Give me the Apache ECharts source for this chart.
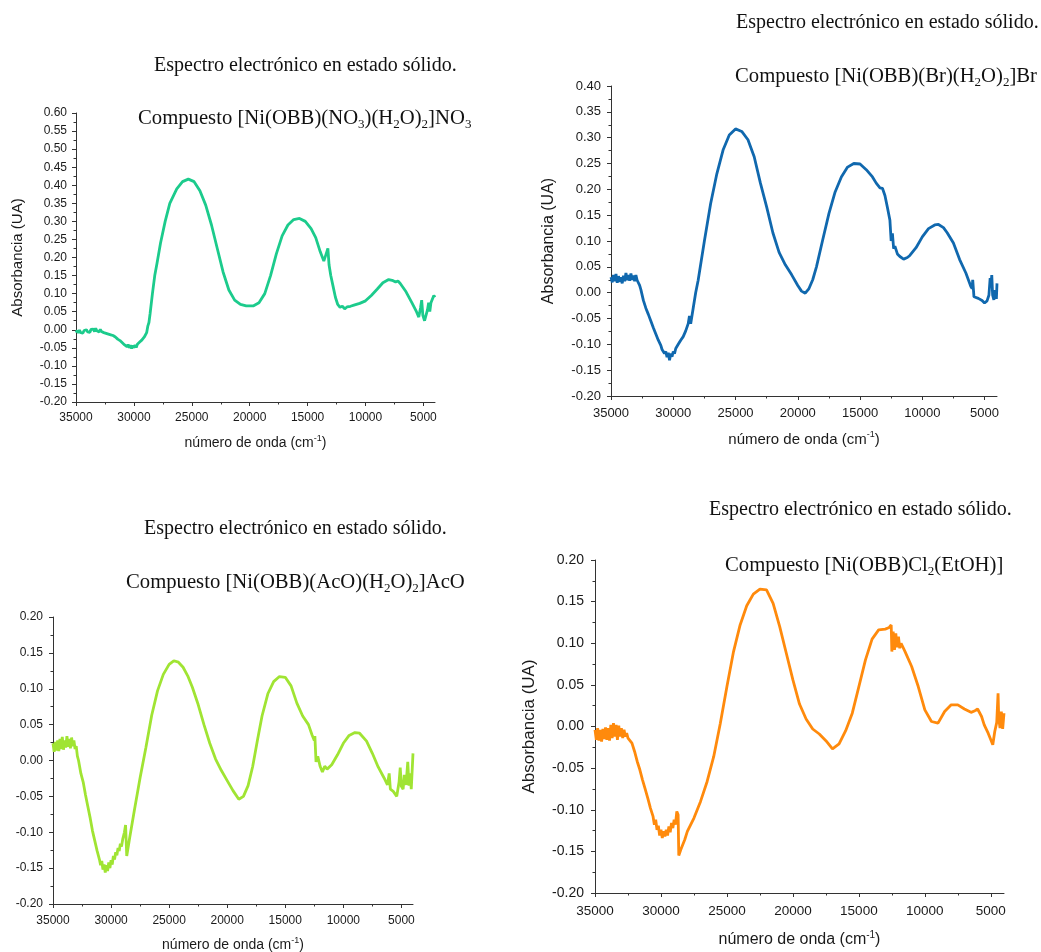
<!DOCTYPE html>
<html>
<head>
<meta charset="utf-8">
<title>Espectro electrónico en estado sólido</title>
<script src="https://cdn.jsdelivr.net/npm/echarts@6/dist/echarts.min.js"></script>
<style>
  html, body { margin: 0; padding: 0; background: #ffffff; }
  #chart { width: 1041px; height: 952px; }
</style>
</head>
<body>
<div id="chart"></div>
<script>
// ---- Spectra: [wavenumber (cm-1), absorbance (UA)] ----
const specNO3 = [
  [35000,-0.008],[34900,-0.002],[34800,-0.009],[34700,-0.001],[34600,-0.008],[34500,-0.003],[34400,-0.009],[34300,-0.002],
  [34200,-0.007],[34100,0.000],[34000,-0.006],[33900,-0.001],[33800,-0.007],[33700,0.001],[33600,-0.004],[33500,0.002],
  [33400,-0.005],[33300,0.004],[33200,-0.003],[33100,0.002],[33000,-0.006],[32900,0.001],[32800,-0.005],[32700,-0.001],
  [32600,-0.008],[32500,-0.004],[32400,-0.010],[32300,-0.006],[32200,-0.012],[32100,-0.009],[32000,-0.014],
  [31800,-0.016],[31600,-0.020],[31400,-0.026],[31200,-0.030],[31000,-0.036],[30900,-0.033],[30800,-0.042],[30700,-0.038],
  [30600,-0.047],[30500,-0.041],[30400,-0.050],[30300,-0.043],[30200,-0.052],[30100,-0.044],[30000,-0.050],[29900,-0.042],
  [29800,-0.049],[29700,-0.040],[29600,-0.044],[29500,-0.034],[29400,-0.038],[29300,-0.028],[29200,-0.030],[29100,-0.020],
  [29000,-0.022],[28900,-0.008],[28800,0.010],[28700,0.020],[28600,0.045],[28400,0.100],[28200,0.150],[28000,0.185],
  [27700,0.240],[27300,0.300],[26900,0.350],[26300,0.390],[25800,0.410],[25300,0.417],[24800,0.410],[24300,0.385],
  [23800,0.345],[23300,0.290],[22800,0.225],[22300,0.160],[21800,0.110],[21300,0.082],[20800,0.070],[20300,0.066],
  [19700,0.066],[19200,0.075],[18700,0.100],[18200,0.150],[17700,0.210],[17200,0.260],[16700,0.290],[16200,0.305],
  [15700,0.308],[15200,0.300],[14700,0.280],[14300,0.255],[13900,0.215],[13600,0.190],[13450,0.186],[13350,0.215],
  [13250,0.225],[13150,0.180],[13000,0.150],[12800,0.120],[12600,0.090],[12400,0.070],[12300,0.075],[12200,0.062],
  [12000,0.065],[11800,0.058],[11600,0.063],[11300,0.065],[11000,0.068],[10500,0.073],[10000,0.080],[9500,0.095],
  [9000,0.112],[8500,0.130],[8000,0.139],[7700,0.137],[7400,0.132],[7200,0.135],[7000,0.128],[6500,0.105],
  [6000,0.075],[5600,0.050],[5400,0.035],[5250,0.060],[5150,0.082],[5050,0.040],[4900,0.025],[4800,0.028],
  [4650,0.055],[4550,0.075],[4450,0.050],[4350,0.075],[4200,0.070],[4100,0.095],[4000,0.090]
];

const specBr = [
  [35000,0.030],[34900,0.020],[34800,0.034],[34700,0.022],[34600,0.036],[34500,0.019],[34400,0.032],[34300,0.021],
  [34200,0.030],[34100,0.018],[34000,0.033],[33900,0.022],[33800,0.038],[33700,0.024],[33600,0.034],[33500,0.023],
  [33400,0.037],[33300,0.025],[33200,0.033],[33100,0.022],[33000,0.034],[32900,0.024],[32800,0.026],[32700,0.014],
  [32600,0.006],[32400,-0.015],[32200,-0.030],[32000,-0.042],[31800,-0.055],[31600,-0.068],[31400,-0.080],[31200,-0.092],
  [31000,-0.102],[30900,-0.110],[30800,-0.108],[30700,-0.118],[30600,-0.114],[30500,-0.125],[30400,-0.116],[30300,-0.131],
  [30200,-0.118],[30100,-0.124],[30000,-0.114],[29900,-0.118],[29800,-0.108],[29700,-0.110],[29600,-0.100],[29500,-0.102],
  [29400,-0.092],[29200,-0.085],[29000,-0.074],[28800,-0.060],[28700,-0.045],[28600,-0.060],[28400,-0.030],[28200,0.000],
  [28000,0.024],[27500,0.100],[27000,0.172],[26500,0.230],[26000,0.276],[25500,0.305],[25000,0.317],[24500,0.312],
  [24000,0.296],[23500,0.263],[23000,0.212],[22500,0.166],[22000,0.116],[21500,0.078],[21000,0.054],[20500,0.035],
  [20000,0.014],[19700,0.003],[19400,-0.001],[19100,0.008],[18800,0.025],[18500,0.050],[18000,0.102],[17500,0.153],
  [17000,0.195],[16500,0.224],[16000,0.243],[15500,0.250],[15000,0.249],[14500,0.238],[14000,0.224],[13700,0.212],
  [13400,0.203],[13200,0.202],[13000,0.188],[12800,0.165],[12600,0.140],[12500,0.100],[12400,0.115],[12300,0.085],
  [12200,0.090],[12000,0.075],[11800,0.070],[11500,0.065],[11200,0.068],[11000,0.072],[10500,0.087],[10000,0.108],
  [9500,0.124],[9000,0.131],[8700,0.132],[8300,0.126],[8000,0.116],[7500,0.096],[7000,0.064],[6500,0.038],
  [6100,0.012],[6000,0.008],[5950,0.025],[5850,-0.008],[5500,-0.011],[5200,-0.015],[5000,-0.020],[4800,-0.016],
  [4650,-0.005],[4550,0.028],[4500,0.010],[4420,0.034],[4350,-0.005],[4250,-0.014],[4150,0.005],[4050,-0.012],[4000,0.018]
];

const specAcO = [
  [35000,0.024],[34900,0.012],[34800,0.026],[34700,0.014],[34600,0.028],[34500,0.013],[34400,0.030],[34300,0.016],
  [34200,0.033],[34100,0.015],[34000,0.028],[33900,0.018],[33800,0.034],[33700,0.019],[33600,0.030],[33500,0.017],
  [33400,0.032],[33300,0.020],[33200,0.028],[33100,0.016],[33000,0.020],[32900,0.006],[32800,0.000],[32600,-0.018],
  [32400,-0.030],[32200,-0.048],[32000,-0.064],[31800,-0.080],[31600,-0.098],[31400,-0.112],[31200,-0.126],[31000,-0.138],
  [30900,-0.146],[30800,-0.140],[30700,-0.152],[30600,-0.145],[30500,-0.156],[30400,-0.146],[30300,-0.154],[30200,-0.142],
  [30100,-0.150],[30000,-0.139],[29900,-0.145],[29800,-0.133],[29700,-0.138],[29600,-0.128],[29500,-0.132],[29400,-0.122],
  [29300,-0.126],[29200,-0.116],[29100,-0.120],[29000,-0.110],[28850,-0.100],[28750,-0.090],[28650,-0.133],[28400,-0.108],
  [28000,-0.070],[27500,-0.024],[27000,0.018],[26500,0.063],[26000,0.097],[25500,0.120],[25000,0.134],[24600,0.139],
  [24200,0.137],[23800,0.130],[23400,0.118],[23000,0.102],[22500,0.078],[22000,0.050],[21500,0.024],[21000,0.002],
  [20500,-0.014],[20000,-0.028],[19500,-0.042],[19000,-0.054],[18600,-0.050],[18200,-0.035],[17800,-0.008],[17400,0.028],
  [17000,0.062],[16500,0.093],[16000,0.110],[15500,0.117],[15000,0.116],[14500,0.104],[14000,0.080],[13500,0.062],
  [13000,0.050],[12700,0.036],[12500,0.028],[12450,0.034],[12350,-0.002],[12200,0.006],[12000,-0.008],[11800,-0.016],
  [11600,-0.008],[11400,-0.012],[11000,-0.006],[10500,0.008],[10000,0.024],[9500,0.035],[9000,0.039],[8600,0.038],
  [8000,0.027],[7500,0.010],[7000,-0.009],[6500,-0.024],[6200,-0.034],[6050,-0.018],[5950,-0.040],[5700,-0.043],
  [5400,-0.050],[5300,-0.051],[5200,-0.030],[5100,-0.010],[5000,-0.036],[4850,-0.040],[4750,-0.020],[4600,-0.034],
  [4450,-0.002],[4350,-0.035],[4250,-0.018],[4150,-0.040],[4000,0.010]
];

const specCl = [
  [35000,-0.004],[34900,-0.016],[34800,-0.002],[34700,-0.017],[34600,-0.004],[34500,-0.018],[34400,-0.003],[34300,-0.015],
  [34200,-0.001],[34100,-0.016],[34000,-0.002],[33900,-0.017],[33800,0.002],[33700,-0.014],[33600,0.004],[33500,-0.012],
  [33400,0.002],[33300,-0.016],[33200,0.001],[33100,-0.012],[33000,-0.002],[32900,-0.014],[32800,-0.004],[32700,-0.012],
  [32600,-0.008],[32500,-0.014],[32400,-0.012],[32200,-0.020],[32000,-0.030],[31800,-0.042],[31600,-0.052],[31400,-0.064],
  [31200,-0.075],[31000,-0.086],[30800,-0.098],[30600,-0.108],[30500,-0.118],[30400,-0.112],[30300,-0.124],[30200,-0.119],
  [30100,-0.131],[30000,-0.124],[29900,-0.134],[29800,-0.126],[29700,-0.132],[29600,-0.124],[29500,-0.131],[29400,-0.120],
  [29300,-0.127],[29200,-0.116],[29100,-0.122],[29000,-0.112],[28900,-0.118],[28800,-0.102],[28700,-0.106],[28650,-0.155],
  [28500,-0.148],[28200,-0.136],[28000,-0.126],[27500,-0.110],[27000,-0.090],[26500,-0.066],[26000,-0.036],[25500,0.004],
  [25000,0.048],[24500,0.090],[24000,0.122],[23500,0.145],[23000,0.159],[22500,0.165],[22000,0.164],[21500,0.148],
  [21000,0.120],[20500,0.088],[20000,0.056],[19500,0.027],[19000,0.009],[18500,-0.003],[18000,-0.009],[17500,-0.017],
  [17000,-0.027],[16500,-0.021],[16000,-0.005],[15500,0.016],[15000,0.048],[14500,0.080],[14000,0.105],[13500,0.116],
  [13000,0.117],[12700,0.119],[12550,0.122],[12500,0.090],[12400,0.114],[12300,0.092],[12200,0.112],[12100,0.095],
  [12000,0.108],[11900,0.094],[11800,0.100],[11500,0.090],[11000,0.072],[10500,0.048],[10000,0.020],[9500,0.006],
  [9000,0.004],[8500,0.018],[8000,0.026],[7500,0.026],[7000,0.021],[6500,0.017],[6200,0.019],[6000,0.021],
  [5700,0.012],[5500,0.002],[5200,-0.008],[5000,-0.016],[4850,-0.022],[4700,-0.006],[4550,0.005],[4450,0.040],
  [4400,0.010],[4300,-0.002],[4200,0.018],[4100,-0.003],[4000,0.016]
];

// ---- Axis ticks and text ----
const xMajorTicks = [35000, 30000, 25000, 20000, 15000, 10000, 5000];
const xMinorTicks = [32500, 27500, 22500, 17500, 12500, 7500];
const headingText = 'Espectro electrónico en estado sólido.';
const compoundNO3 = ['Compuesto [Ni(OBB)(NO', '3', ')(H', '2', 'O)', '2', ']NO', '3'];
const compoundBr  = ['Compuesto [Ni(OBB)(Br)(H', '2', 'O)', '2', ']Br'];
const compoundAcO = ['Compuesto [Ni(OBB)(AcO)(H', '2', 'O)', '2', ']AcO'];
const compoundCl  = ['Compuesto [Ni(OBB)Cl', '2', '(EtOH)]'];
const yAxisTitle = 'Absorbancia (UA)';
const xAxisTitle = ['número de onda (cm', '-1', ')'];

// Alternate normal / subscript pieces into rich text
function formula(parts) {
  return parts.map((p, i) => (i % 2 === 0 ? '{m|' : '{s|') + p + '}').join('');
}

const panels = [
  { spec: specNO3, color: '#1ccb8c', compound: compoundNO3,
    grid: { left: 76, top: 113, width: 359, height: 289 }, yMin: -0.2, yMax: 0.6,
    yLabel: 12, xLabel: 12, name: 14, yNameGap: 51, xNameGap: 32, yMargin: 9, xMargin: 10,
    head: [154, 63], comp: [138, 116] },
  { spec: specBr, color: '#1068ae', compound: compoundBr,
    grid: { left: 611, top: 86, width: 386, height: 310 }, yMin: -0.2, yMax: 0.4,
    yLabel: 13, xLabel: 13, name: 15, yNameGap: 54, xNameGap: 34, yMargin: 10, xMargin: 11,
    head: [736, 20], comp: [735, 74] },
  { spec: specAcO, color: '#a0e433', compound: compoundAcO,
    grid: { left: 53, top: 617, width: 360, height: 287 }, yMin: -0.2, yMax: 0.2,
    yLabel: 12, xLabel: 12, name: 14, yNameGap: 59, xNameGap: 32, yMargin: 10, xMargin: 11,
    head: [144, 526], comp: [126, 580] },
  { spec: specCl, color: '#ff8a0c', compound: compoundCl,
    grid: { left: 595, top: 560, width: 409, height: 333 }, yMin: -0.2, yMax: 0.2,
    yLabel: 14, xLabel: 13.5, name: 16, yNameGap: 57, xNameGap: 37, yMargin: 11, xMargin: 11,
    head: [709, 507], comp: [725, 563] }
];

const sansFont = '"Liberation Sans", Arial, sans-serif';
const serifFont = '"Liberation Serif", "DejaVu Serif", serif';
const axisColor = '#333333';
const textColor = '#1a1a1a';

const grids = [], xAxes = [], yAxes = [], series = [], graphics = [];

panels.forEach((p, i) => {
  // fixed plot rectangles; labels and titles may run past the canvas edge
  grids.push(Object.assign({ containLabel: false, outerBoundsMode: 'none' }, p.grid));

  // main x axis: line, major ticks, labels, title
  xAxes.push({
    type: 'value', gridIndex: i, min: 4000, max: 35000, inverse: true,
    axisLine: { show: true, onZero: false, lineStyle: { color: axisColor, width: 1 } },
    axisTick: { show: true, inside: false, length: 4, customValues: xMajorTicks,
                lineStyle: { color: axisColor } },
    axisLabel: { show: true, customValues: xMajorTicks, margin: p.xMargin,
                 fontFamily: sansFont, fontSize: p.xLabel, color: textColor,
                 formatter: v => String(Math.round(v)) },
    splitLine: { show: false },
    name: '{n|' + xAxisTitle[0] + '}{u|' + xAxisTitle[1] + '}{n|' + xAxisTitle[2] + '}',
    nameLocation: 'middle', nameGap: p.xNameGap,
    nameTextStyle: {
      rich: {
        n: { fontFamily: sansFont, fontSize: p.name, color: textColor, lineHeight: p.name + 4 },
        u: { fontFamily: sansFont, fontSize: Math.round(p.name * 0.62), color: textColor,
             lineHeight: 10, verticalAlign: 'top' }
      }
    }
  });
  // companion x axis carrying only the minor ticks
  xAxes.push({
    type: 'value', gridIndex: i, min: 4000, max: 35000, inverse: true, position: 'bottom',
    axisLine: { show: false, onZero: false },
    axisTick: { show: true, inside: false, length: 2.5, customValues: xMinorTicks,
                lineStyle: { color: axisColor } },
    axisLabel: { show: false },
    splitLine: { show: false }
  });

  yAxes.push({
    type: 'value', gridIndex: i, min: p.yMin, max: p.yMax, interval: 0.05,
    axisLine: { show: true, onZero: false, lineStyle: { color: axisColor, width: 1 } },
    axisTick: { show: true, inside: false, length: 4, lineStyle: { color: axisColor } },
    minorTick: { show: true, splitNumber: 2, length: 2.5, lineStyle: { color: axisColor } },
    axisLabel: { margin: p.yMargin, fontFamily: sansFont, fontSize: p.yLabel, color: textColor,
                 formatter: v => v.toFixed(2) },
    splitLine: { show: false },
    minorSplitLine: { show: false },
    name: yAxisTitle, nameLocation: 'middle', nameGap: p.yNameGap,
    nameTextStyle: { fontFamily: sansFont, fontSize: p.name + 1, color: textColor }
  });

  series.push({
    type: 'line', xAxisIndex: i * 2, yAxisIndex: i,
    data: p.spec,
    showSymbol: false, symbol: 'none', smooth: false,
    lineStyle: { color: p.color, width: 2.8 },
    clip: true, silent: true
  });

  graphics.push({
    type: 'text', left: p.head[0], top: p.head[1] - 7,
    style: { text: headingText, font: '20px ' + serifFont, fill: '#111111' }
  });
  graphics.push({
    type: 'text', left: p.comp[0], top: p.comp[1] - 8,
    style: {
      text: formula(p.compound), fill: '#111111',
      rich: {
        m: { fontFamily: serifFont, fontSize: 20.7, lineHeight: 26, fill: '#111111' },
        s: { fontFamily: serifFont, fontSize: 13, lineHeight: 24, verticalAlign: 'bottom', fill: '#111111' }
      }
    }
  });
});

const chart = echarts.init(document.getElementById('chart'), null, { renderer: 'canvas' });
chart.setOption({
  animation: false,
  backgroundColor: '#ffffff',
  grid: grids,
  xAxis: xAxes,
  yAxis: yAxes,
  series: series,
  graphic: graphics
});
</script>
</body>
</html>
